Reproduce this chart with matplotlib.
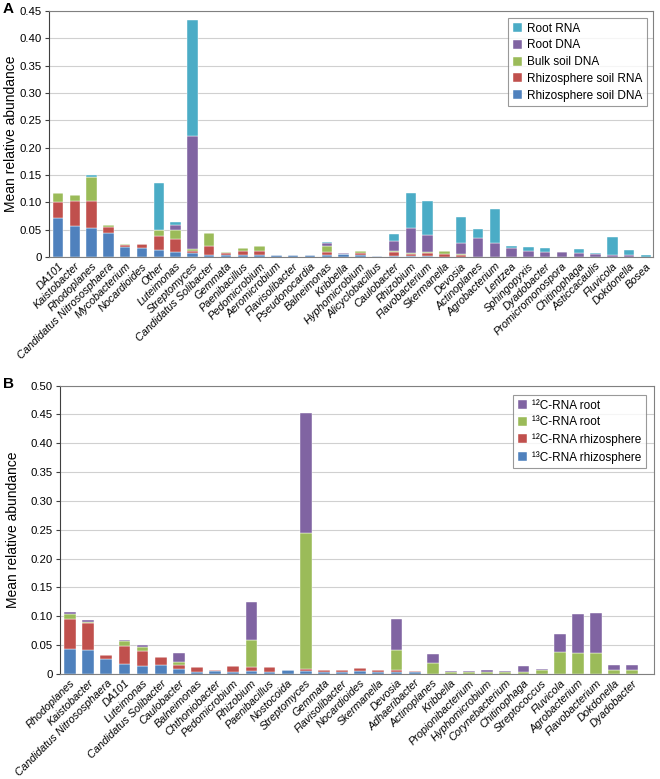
import numpy as np
import matplotlib
matplotlib.use("Agg")
import matplotlib.pyplot as plt
from matplotlib.ticker import FuncFormatter, MultipleLocator

plt.rcParams['font.family'] = ['Liberation Sans', 'DejaVu Sans']

# ---- panel A data ----
genera_a = ["DA101", "Kaistobacter", "Rhodoplanes", "Candidatus Nitrososphaera", "Mycobacterium",
            "Nocardioides", "Other", "Luteimonas", "Streptomyces", "Candidatus Solibacter", "Gemmata",
            "Paenibacillus", "Pedomicrobium", "Aeromicrobium", "Flavisolibacter", "Pseudonocardia",
            "Balneimonas", "Kribbella", "Hyphomicrobium", "Alicyclobacillus", "Caulobacter", "Rhizobium",
            "Flavobacterium", "Skermanella", "Devosia", "Actinoplanes", "Agrobacterium", "Lentzea",
            "Sphingopyxis", "Dyadobacter", "Promicromonospora", "Chitinophaga", "Asticcacaulis",
            "Fluvicola", "Dokdonella", "Bosea"]
rhizo_dna_a = [0.071, 0.057, 0.053, 0.044, 0.019, 0.017, 0.013, 0.009, 0.007, 0.004, 0.003, 0.004,
               0.004, 0.003, 0.003, 0.003, 0.004, 0.006, 0.003, 0.002, 0.002, 0.002, 0.002, 0.001,
               0.001, 0, 0, 0, 0, 0, 0, 0, 0, 0, 0, 0]
rhizo_rna_a = [0.029, 0.045, 0.049, 0.011, 0.003, 0.006, 0.025, 0.024, 0.004, 0.017, 0.004, 0.007,
               0.008, 0, 0, 0, 0.005, 0, 0.005, 0, 0.007, 0.004, 0.006, 0.004,
               0.002, 0, 0, 0, 0, 0, 0, 0, 0, 0, 0, 0]
bulk_dna_a = [0.018, 0.012, 0.044, 0.003, 0.001, 0.001, 0.011, 0.017, 0.003, 0.023, 0.003, 0.005,
              0.009, 0, 0, 0, 0.012, 0, 0.003, 0, 0.002, 0.002, 0.001, 0.006,
              0.002, 0, 0, 0, 0, 0, 0, 0, 0, 0, 0, 0]
root_dna_a = [0, 0, 0, 0, 0, 0, 0.001, 0.008, 0.208, 0, 0, 0,
              0, 0, 0, 0, 0.005, 0.001, 0, 0, 0.019, 0.046, 0.031, 0,
              0.020, 0.034, 0.025, 0.016, 0.012, 0.009, 0.009, 0.008, 0.005, 0.003, 0.004, 0.001]
root_rna_a = [0, 0, 0.004, 0, 0, 0, 0.086, 0.006, 0.211, 0, 0, 0,
              0, 0, 0, 0, 0.001, 0, 0, 0, 0.013, 0.064, 0.063, 0,
              0.049, 0.017, 0.063, 0.004, 0.006, 0.007, 0, 0.007, 0.003, 0.033, 0.009, 0.002]

# ---- panel B data ----
genera_b = ["Rhodoplanes", "Kaistobacter", "Candidatus Nitrososphaera", "DA101", "Luteimonas",
            "Candidatus Solibacter", "Caulobacter", "Balneimonas", "Chthoniobacter", "Pedomicrobium",
            "Rhizobium", "Paenibacillus", "Nostocoida", "Streptomyces", "Gemmata", "Flavisolibacter",
            "Nocardioides", "Skermanella", "Devosia", "Adhaeribacter", "Actinoplanes", "Kribbella",
            "Propionibacterium", "Hyphomicrobium", "Corynebacterium", "Chitinophaga", "Streptococcus",
            "Fluvicola", "Agrobacterium", "Flavobacterium", "Dokdonella", "Dyadobacter"]
c13_rhizo_b = [0.043, 0.041, 0.026, 0.017, 0.014, 0.015, 0.008, 0.004, 0.005, 0.004, 0.005, 0.004,
               0.006, 0.005, 0.004, 0.004, 0.005, 0.004, 0.004, 0.003, 0, 0, 0, 0, 0, 0, 0, 0, 0, 0, 0, 0]
c12_rhizo_b = [0.052, 0.047, 0.007, 0.032, 0.026, 0.015, 0.008, 0.007, 0.002, 0.009, 0.006, 0.007,
               0.001, 0.003, 0.003, 0.003, 0.005, 0.003, 0.002, 0.002, 0, 0, 0, 0, 0, 0, 0, 0, 0, 0, 0, 0]
c13_root_b = [0.008, 0.002, 0, 0.008, 0.006, 0, 0.004, 0, 0, 0, 0.048, 0,
              0, 0.236, 0, 0, 0, 0, 0.036, 0, 0.018, 0.004, 0.004, 0.004, 0.004, 0.004, 0.007,
              0.038, 0.036, 0.036, 0.007, 0.006]
c12_root_b = [0.005, 0.003, 0, 0.002, 0.004, 0, 0.016, 0, 0, 0, 0.066, 0,
              0, 0.209, 0, 0, 0, 0, 0.053, 0, 0.016, 0.001, 0.001, 0.002, 0.001, 0.009, 0.001,
              0.031, 0.067, 0.069, 0.009, 0.009]

BLUE = "#4F81BD"
RED = "#C0504D"
GREEN = "#9BBB59"
PURPLE = "#8064A2"
CYAN = "#4BACC6"


def stacked(ax, names, series, width):
    x = np.arange(len(names))
    bottom = np.zeros(len(names))
    handles = []
    for vals, color, label in series:
        vals = np.array(vals)
        h = ax.bar(x, vals, width, bottom=bottom, color=color, label=label,
                   edgecolor='white', linewidth=0.3)
        bottom += vals
        handles.append(h)
    ax.set_xticks(x)
    ax.set_xticklabels(names, rotation=45, ha='right', rotation_mode='anchor',
                       fontstyle='italic', fontsize=7.8)
    return handles


def style(ax, ymax, label_x):
    ax.set_ylim(0, ymax)
    ax.yaxis.set_major_locator(MultipleLocator(0.05))
    ax.yaxis.set_major_formatter(FuncFormatter(lambda v, p: "0" if abs(v) < 1e-9 else f"{v:.2f}"))
    ax.grid(axis='y', color='#d0d0d0', linewidth=0.8)
    ax.set_axisbelow(True)
    for s in ['top', 'right', 'bottom']:
        ax.spines[s].set_color('#808080')
    ax.spines['left'].set_color('#404040')
    ax.tick_params(axis='y', labelsize=8.2, length=3, pad=2, color='#404040')
    ax.tick_params(axis='x', length=0, pad=3)
    ax.set_ylabel("Mean relative abundance", fontsize=10)
    ax.yaxis.set_label_coords(label_x, 0.5)


fig = plt.figure(figsize=(6.6, 7.79), dpi=100)

ax1 = fig.add_axes([0.074, 0.670, 0.915, 0.316])
hA = stacked(ax1, genera_a, [(rhizo_dna_a, BLUE, "Rhizosphere soil DNA"),
                             (rhizo_rna_a, RED, "Rhizosphere soil RNA"),
                             (bulk_dna_a, GREEN, "Bulk soil DNA"),
                             (root_dna_a, PURPLE, "Root DNA"),
                             (root_rna_a, CYAN, "Root RNA")], 0.62)
ax1.set_xlim(-0.55, len(genera_a) - 0.6)
style(ax1, 0.45, -0.051)
leg1 = ax1.legend(handles=hA[::-1], loc='upper right', fontsize=8.5, frameon=True, fancybox=False,
                  edgecolor='#808080', handlelength=0.8, handleheight=0.8, borderpad=0.4,
                  labelspacing=0.4, handletextpad=0.4, bbox_to_anchor=(1.0, 0.995))
leg1.get_frame().set_linewidth(0.8)

ax2 = fig.add_axes([0.091, 0.135, 0.900, 0.370])
hB = stacked(ax2, genera_b, [(c13_rhizo_b, BLUE, "¹³C-RNA rhizosphere"),
                             (c12_rhizo_b, RED, "¹²C-RNA rhizosphere"),
                             (c13_root_b, GREEN, "¹³C-RNA root"),
                             (c12_root_b, PURPLE, "¹²C-RNA root")], 0.65)
ax2.set_xlim(-0.55, len(genera_b) + 0.2)
style(ax2, 0.50, -0.068)
leg2 = ax2.legend(handles=hB[::-1], loc='upper right', fontsize=8.5, frameon=True, fancybox=False,
                  edgecolor='#808080', handlelength=0.8, handleheight=0.8, borderpad=0.4,
                  labelspacing=0.4, handletextpad=0.4, bbox_to_anchor=(0.996, 0.988))
leg2.get_frame().set_linewidth(0.8)

fig.text(0.004, 0.998, "A", fontsize=11, fontweight='bold', va='top')
fig.text(0.004, 0.516, "B", fontsize=11, fontweight='bold', va='top')

fig.savefig("out.png", dpi=100)
